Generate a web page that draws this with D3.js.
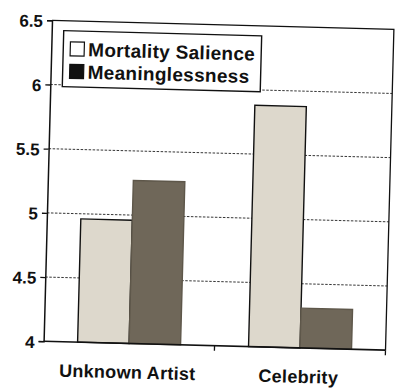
<!DOCTYPE html>
<html>
<head>
<meta charset="utf-8">
<script src="https://cdn.jsdelivr.net/npm/d3@7/dist/d3.min.js"></script>
<style>
  html, body { margin: 0; padding: 0; background: #fff; }
  svg { display: block; }
  text { font-family: "Liberation Sans", Arial, sans-serif; fill: #111; }
</style>
</head>
<body>
<svg id="chart" width="398" height="391"></svg>
<script>
// Chart data
const categories = ["Unknown Artist", "Celebrity"];
const seriesNames = ["Mortality Salience", "Meaninglessness"];
const mortalitySalience = [4.96, 5.88];
const meaninglessness = [5.27, 4.31];
const yTickValues = [4, 4.5, 5, 5.5, 6, 6.5];
const seriesColors = ["#ddd8cc", "#6f6759"];
const legendSwatches = ["#ffffff", "#111111"];

const seriesValues = [mortalitySalience, meaninglessness];
const rows = categories.map((c, i) => ({
  category: c,
  values: seriesNames.map((s, j) => ({ series: s, value: seriesValues[j][i], idx: j }))
}));

// Plot frame
const plot = { left: 47.75, top: 24.75, width: 342, height: 321 };
const svg = d3.select("#chart");
const root = svg.append("g")
  .attr("transform", "rotate(1.5, 218.75, 185.25)");
const g = root.append("g")
  .attr("transform", `translate(${plot.left},${plot.top})`);

const y = d3.scaleLinear().domain([4, 6.5]).range([plot.height, 0]);
const x0 = d3.scaleBand().domain(categories).range([0, plot.width]);
const x1 = d3.scaleBand().domain(seriesNames).range([0, x0.bandwidth()])
  .paddingInner(0).paddingOuter(0.66);

// Dotted gridlines
g.append("g").selectAll("line")
  .data(yTickValues.filter(v => v > 4 && v < 6.5))
  .join("line")
  .attr("x1", 0).attr("x2", plot.width)
  .attr("y1", d => y(d)).attr("y2", d => y(d))
  .attr("stroke", "#222").attr("stroke-width", 0.9)
  .attr("stroke-dasharray", "2.5,1.5");

// Top and right border of the plot area
g.append("path")
  .attr("d", `M0,${y(6.5)}H${plot.width}V${y(4)}`)
  .attr("fill", "none").attr("stroke", "#111").attr("stroke-width", 1.3);

// Bars
g.append("g").selectAll("g")
  .data(rows)
  .join("g")
  .attr("transform", d => `translate(${x0(d.category)},0)`)
  .selectAll("rect")
  .data(d => d.values)
  .join("rect")
  .attr("x", d => x1(d.series))
  .attr("width", x1.bandwidth())
  .attr("y", d => y(d.value))
  .attr("height", d => y(4) - y(d.value))
  .attr("fill", d => seriesColors[d.idx])
  .attr("stroke", d => d.idx === 0 ? "#111" : "#5e574a")
  .attr("stroke-width", 1.4);

// Y axis
const yAxis = g.append("g")
  .call(d3.axisLeft(y).tickValues(yTickValues).tickSize(5).tickPadding(4)
    .tickFormat(d3.format("")));
yAxis.select(".domain").attr("stroke", "#111").attr("stroke-width", 1.5);
yAxis.selectAll(".tick line").attr("stroke", "#111").attr("stroke-width", 1.3);
yAxis.selectAll(".tick text")
  .attr("font-size", 17).attr("font-weight", "bold")
  .attr("font-family", "Liberation Sans, Arial, sans-serif")
  .attr("fill", "#111").attr("dy", "0.38em");

// X axis line, boundary ticks and category labels
const xAxis = g.append("g").attr("transform", `translate(0,${plot.height})`);
xAxis.append("line")
  .attr("x1", 0).attr("x2", plot.width)
  .attr("stroke", "#111").attr("stroke-width", 1.6);
xAxis.selectAll(".bound")
  .data(categories)
  .join("line")
  .attr("class", "bound")
  .attr("x1", d => x0(d) + x0.bandwidth()).attr("x2", d => x0(d) + x0.bandwidth())
  .attr("y1", 0).attr("y2", 5)
  .attr("stroke", "#111").attr("stroke-width", 1.3);
xAxis.selectAll(".cat")
  .data(categories)
  .join("text")
  .attr("class", "cat")
  .attr("x", d => x0(d) + x0.bandwidth() / 2 - 1)
  .attr("y", 35)
  .attr("text-anchor", "middle")
  .attr("font-size", 18).attr("font-weight", "bold")
  .attr("letter-spacing", 0.3)
  .text(d => d);

// Legend
const legend = g.append("g").attr("transform", "translate(12,10)");
legend.append("rect")
  .attr("width", 198).attr("height", 56)
  .attr("fill", "#fff").attr("stroke", "#111").attr("stroke-width", 1.4);
const items = legend.selectAll(".item")
  .data(seriesNames)
  .join("g")
  .attr("class", "item")
  .attr("transform", (d, i) => `translate(7,${11 + i * 22.5})`);
items.append("rect")
  .attr("width", 14).attr("height", 14)
  .attr("fill", (d, i) => legendSwatches[i])
  .attr("stroke", "#111").attr("stroke-width", 1.2);
items.append("text")
  .attr("x", 18).attr("y", 14)
  .attr("font-size", 19).attr("font-weight", "bold")
  .attr("letter-spacing", 0.3)
  .text(d => d);
</script>
</body>
</html>
